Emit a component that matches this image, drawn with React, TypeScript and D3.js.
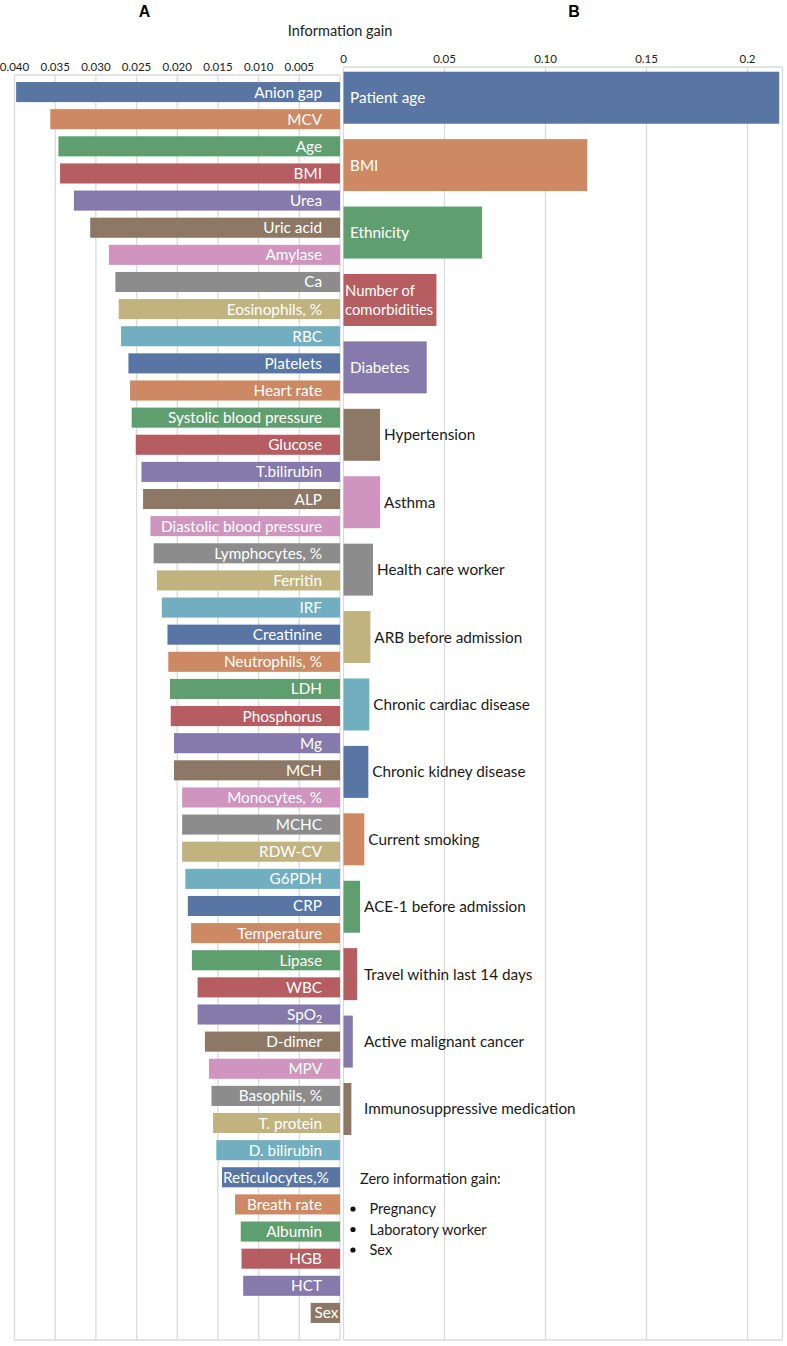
import React from "react";
import * as d3 from "d3";

const featuresA = [
  "Anion gap", "MCV", "Age", "BMI", "Urea", "Uric acid", "Amylase", "Ca", "Eosinophils, %", "RBC",
  "Platelets", "Heart rate", "Systolic blood pressure", "Glucose", "T.bilirubin", "ALP", "Diastolic blood pressure",
  "Lymphocytes, %", "Ferritin", "IRF", "Creatinine", "Neutrophils, %", "LDH", "Phosphorus", "Mg", "MCH",
  "Monocytes, %", "MCHC", "RDW-CV", "G6PDH", "CRP", "Temperature", "Lipase", "WBC", "SpO2", "D-dimer", "MPV",
  "Basophils, %", "T. protein", "D. bilirubin", "Reticulocytes,%", "Breath rate", "Albumin", "HGB", "HCT", "Sex",
];
const valuesA = [
  0.0398, 0.0356, 0.0346, 0.0344, 0.0327, 0.0307, 0.0284, 0.0276, 0.0272, 0.0269,
  0.0260, 0.0258, 0.0256, 0.0251, 0.0244, 0.0242, 0.0233,
  0.0229, 0.0225, 0.0219, 0.0212, 0.0211, 0.0209, 0.0208, 0.0204, 0.0204,
  0.0194, 0.0194, 0.0194, 0.0190, 0.0187, 0.0183, 0.0182, 0.0175, 0.0175, 0.0166, 0.0161,
  0.0158, 0.0156, 0.0152, 0.0145, 0.0129, 0.0122, 0.0121, 0.0119, 0.0036,
];
const featuresB = [
  "Patient age", "BMI", "Ethnicity", "Number of\ncomorbidities", "Diabetes", "Hypertension", "Asthma",
  "Health care worker", "ARB before admission", "Chronic cardiac disease", "Chronic kidney disease",
  "Current smoking", "ACE-1 before admission", "Travel within last 14 days", "Active malignant cancer",
  "Immunosuppressive medication",
];
const valuesB = [
  0.2157, 0.1207, 0.0686, 0.0460, 0.0412, 0.0181, 0.0181, 0.0146, 0.0133, 0.0128, 0.0123,
  0.0103, 0.0082, 0.0068, 0.0046, 0.0039,
];
const zeroGain = ["Pregnancy", "Laboratory worker", "Sex"];
const ticksA = [0.04, 0.035, 0.03, 0.025, 0.02, 0.015, 0.01, 0.005];
const tickLabelsA = ["0.040", "0.035", "0.030", "0.025", "0.020", "0.015", "0.010", "0.005"];
const ticksB = [0, 0.05, 0.1, 0.15, 0.2];
const tickLabelsB = ["0", "0.05", "0.10", "0.15", "0.2"];

const palette = ["#5875a4", "#cc8963", "#5f9e6e", "#b55d60", "#857aab", "#8d7866", "#d095bf", "#8c8c8c", "#c1b37f", "#71aec0"];
const FONT = "Lato, 'Open Sans', sans-serif";
const GRID = "#dadada";

let measureCtx: CanvasRenderingContext2D | null = null;
function textWidth(s: string, size: number): number {
  if (typeof document === "undefined") return s.length * size * 0.5;
  if (!measureCtx) measureCtx = document.createElement("canvas").getContext("2d");
  if (!measureCtx) return s.length * size * 0.5;
  measureCtx.font = `${size}px Lato`;
  return measureCtx.measureText(s).width;
}

export default function App() {
  const W = 787, H = 1346;
  const aTop = 75, aBottom = 1340, bTop = 67, bBottom = 1340;
  const xA = d3.scaleLinear().domain([0.04, 0]).range([14.5, 340]);
  const yA = d3.scaleBand<string>().domain(featuresA).range([78.5, 1326.5]).paddingInner(0.26).paddingOuter(0.13);
  const xB = d3.scaleLinear().domain([0, 0.2]).range([343.5, 747.5]);
  const yB = d3.scaleBand<string>().domain(featuresB).range([64, 1142.7]).paddingInner(0.229).paddingOuter(0.1145);
  const bRight = 782.5;
  const LFS = 15.3;

  const labelA = (name: string) => {
    if (name === "SpO2") return (<>SpO<tspan fontSize={10.5} dy={3}>2</tspan></>);
    return name;
  };

  return (
    <svg width={W} height={H} style={{ position: "absolute", left: 0, top: 0, background: "#fff" }}>
      <rect x={0} y={0} width={W} height={H} fill="#fff" />
      {/* Titles */}
      <text x={144.5} y={16.5} fontFamily="'Liberation Sans', Arial, sans-serif" fontWeight="bold" fontSize={16} textAnchor="middle">A</text>
      <text x={574} y={16.5} fontFamily="'Liberation Sans', Arial, sans-serif" fontWeight="bold" fontSize={16} textAnchor="middle">B</text>
      <text x={340} y={36} fontFamily={FONT} fontSize={14.5} textAnchor="middle" fill="#222">Information gain</text>

      {/* Panel A grid */}
      <g>
        {ticksA.map((t) => (
          <line key={t} x1={xA(t)} x2={xA(t)} y1={aTop} y2={aBottom} stroke={GRID} strokeWidth={1.3} />
        ))}
        <line x1={xA(0)} x2={xA(0)} y1={aTop} y2={aBottom} stroke={GRID} strokeWidth={1.3} />
        <line x1={xA(0.04)} x2={xA(0)} y1={aTop} y2={aTop} stroke={GRID} strokeWidth={1.3} />
        <line x1={xA(0.04)} x2={xA(0)} y1={aBottom} y2={aBottom} stroke={GRID} strokeWidth={1.3} />
        {ticksA.map((t, i) => (
          <text key={t} x={xA(t)} y={71} fontFamily={FONT} fontSize={11.5} textAnchor="middle" fill="#222">{tickLabelsA[i]}</text>
        ))}
      </g>

      {/* Panel B grid */}
      <g>
        {ticksB.map((t) => (
          <line key={t} x1={xB(t)} x2={xB(t)} y1={bTop} y2={bBottom} stroke={GRID} strokeWidth={1.3} />
        ))}
        <line x1={bRight} x2={bRight} y1={bTop} y2={bBottom} stroke={GRID} strokeWidth={1.3} />
        <line x1={xB(0)} x2={bRight} y1={bTop} y2={bTop} stroke={GRID} strokeWidth={1.3} />
        <line x1={xB(0)} x2={bRight} y1={bBottom} y2={bBottom} stroke={GRID} strokeWidth={1.3} />
        {ticksB.map((t, i) => (
          <text key={t} x={xB(t)} y={62.5} fontFamily={FONT} fontSize={11.5} textAnchor="middle" fill="#222">{tickLabelsB[i]}</text>
        ))}
      </g>

      {/* Panel A bars */}
      <g>
        {featuresA.map((f, i) => {
          const x0 = xA(valuesA[i]);
          const x1 = xA(0);
          const y = yA(f)!;
          const h = yA.bandwidth();
          const narrow = x1 - x0 < 60;
          const w = textWidth(f, LFS);
          const endX = Math.min(x1 - 2, Math.max(322, x0 + w + 1));
          return (
            <g key={f}>
              <rect x={x0} y={y} width={x1 - x0} height={h} fill={palette[i % 10]} />
              <text
                x={narrow ? (x0 + x1) / 2 + 1 : endX}
                y={y + h / 2}
                dy="0.36em"
                fontFamily={FONT}
                fontSize={LFS}
                fill="#fff"
                textAnchor={narrow ? "middle" : "end"}
              >
                {labelA(f)}
              </text>
            </g>
          );
        })}
      </g>

      {/* Panel B bars */}
      <g>
        {featuresB.map((f, i) => {
          const x0 = xB(0);
          const x1 = xB(valuesB[i]);
          const y = yB(f)!;
          const h = yB.bandwidth();
          const inside = valuesB[i] > 0.03;
          const lines = f.split("\n");
          const lh = 19.5;
          const multi = lines.length > 1;
          const tx = inside ? (multi ? x0 + 1.5 : x0 + 6.5) : Math.max(x1 + 4, 364);
          return (
            <g key={f}>
              <rect x={x0} y={y} width={x1 - x0} height={h} fill={palette[i % 10]} />
              <text
                x={tx}
                y={y + h / 2 - ((lines.length - 1) * lh) / 2}
                fontFamily={FONT}
                fontSize={multi ? 14.8 : LFS}
                fill={inside ? "#fff" : "#1a1a1a"}
              >
                {lines.map((l, j) => (
                  <tspan key={j} x={tx} dy={j === 0 ? "0.36em" : lh}>{l}</tspan>
                ))}
              </text>
            </g>
          );
        })}
      </g>

      {/* Zero information gain note */}
      <g fontFamily={FONT} fontSize={14.5} fill="#1a1a1a">
        <text x={360} y={1184}>Zero information gain:</text>
        {zeroGain.map((z, i) => (
          <g key={z}>
            <circle cx={353} cy={1209 + i * 20.5} r={2.6} fill="#111" />
            <text x={369.5} y={1209 + i * 20.5} dy="0.36em">{z}</text>
          </g>
        ))}
      </g>
    </svg>
  );
}
